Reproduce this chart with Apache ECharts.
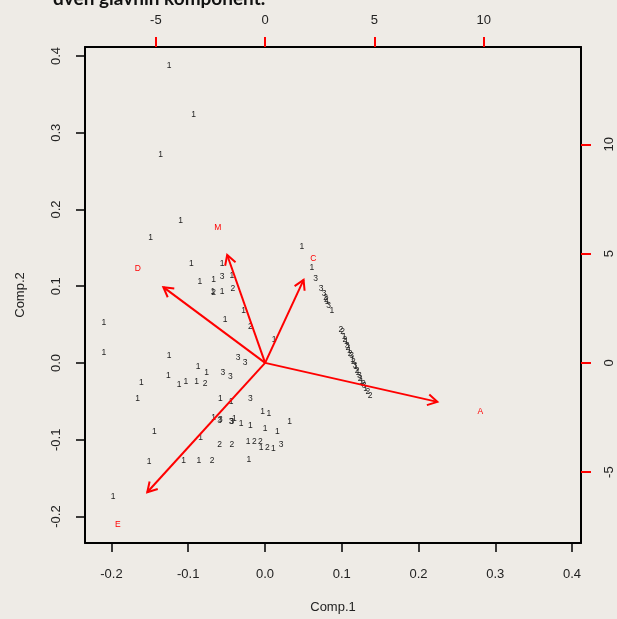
<!DOCTYPE html>
<html>
<head>
<meta charset="utf-8">
<script src="https://cdn.jsdelivr.net/npm/echarts@6/dist/echarts.min.js"></script>
<style>
  html, body { margin: 0; padding: 0; background: #eeebe6; }
  #main { width: 617px; height: 619px; }
</style>
</head>
<body>
<div id="main"></div>
<script>
// scores (Comp.1, Comp.2) with group label of each observation
const groupLab = [
  1,1,1,1,1,1,1,3,1,1,1,2,1,1,2,1,1,2,1,1,1,3,3,1,1,1,3,3,1,1,1,1,1,2,1,1,1,3,1,1,
  1,1,3,3,1,3,3,1,1,1,1,1,1,2,2,1,2,2,1,2,1,3,1,1,1,2,1,1,
  1,1,3,3,3,2,2,1,3,1,
  2,2,1,2,1,3,2,1,2,3,1,2,3,1,2,1,3,2,1,2,3,1,2,2
];
const comp1 = [
  -0.125,-0.093,-0.136,-0.110,-0.149,-0.096,-0.056,-0.056,-0.043,-0.085,
  -0.067,-0.067,-0.068,-0.056,-0.042,-0.028,-0.052,-0.019,-0.210,-0.210,
  -0.125,-0.035,-0.026,0.012,-0.087,-0.076,-0.055,-0.045,-0.126,-0.161,
  -0.112,-0.103,-0.089,-0.078,-0.166,-0.058,-0.044,-0.019,-0.003,0.005,
  0.032,-0.067,-0.059,-0.058,-0.040,-0.043,-0.044,-0.031,-0.019,0.000,
  0.016,-0.144,-0.084,-0.059,-0.043,-0.022,-0.014,-0.006,-0.005,0.003,
  0.011,0.021,-0.151,-0.106,-0.086,-0.069,-0.021,-0.198,
  0.048,0.061,0.066,0.073,0.077,0.079,0.080,0.081,0.083,0.087,
  0.099,0.101,0.103,0.104,0.106,0.107,0.108,0.110,0.111,0.113,0.114,0.115,
  0.117,0.118,0.120,0.121,0.123,0.124,0.126,0.128,0.129,0.131,0.134,0.137
];
const comp2 = [
  0.387,0.323,0.272,0.186,0.163,0.130,0.129,0.113,0.114,0.106,
  0.108,0.092,0.093,0.093,0.097,0.068,0.056,0.047,0.053,0.014,
  0.009,0.007,0.000,0.030,-0.005,-0.012,-0.013,-0.018,-0.017,-0.025,
  -0.028,-0.024,-0.024,-0.027,-0.046,-0.046,-0.051,-0.047,-0.064,-0.066,
  -0.076,-0.071,-0.075,-0.074,-0.073,-0.077,-0.077,-0.079,-0.082,-0.086,
  -0.089,-0.090,-0.097,-0.106,-0.107,-0.103,-0.103,-0.103,-0.110,-0.110,
  -0.111,-0.107,-0.129,-0.127,-0.127,-0.127,-0.126,-0.174,
  0.152,0.124,0.110,0.097,0.090,0.085,0.083,0.080,0.075,0.068,
  0.043,0.041,0.034,0.030,0.028,0.022,0.020,0.016,0.012,0.009,0.005,0.002,
  -0.003,-0.005,-0.010,-0.013,-0.017,-0.020,-0.024,-0.027,-0.030,-0.034,-0.037,-0.042
];

// loadings (variable positions on the top/right scale)
const varNames = ['A', 'C', 'D', 'E', 'M'];
const load1 = [9.85, 2.20, -5.82, -6.74, -2.17];
const load2 = [-2.23, 4.75, 4.33, -7.40, 6.17];
const arrowScale = 0.8; // biplot draws arrows at 0.8 of the loading, text at the loading

const scoreTicks = [-0.2, -0.1, 0.0, 0.1, 0.2, 0.3, 0.4];
const loadTicks = [-5, 0, 5, 10];

const font = '"Liberation Sans", Arial, sans-serif';
const chart = echarts.init(document.getElementById('main'));

function scoreAxis(pos, name, gap, nameGap, rot) {
  return {
    type: 'value', position: pos, min: -0.2345, max: 0.4117,
    axisLine: { show: true, onZero: false, lineStyle: { color: '#000', width: 2 } },
    axisTick: { show: true, length: 9, customValues: scoreTicks, lineStyle: { color: '#000', width: 1.5 } },
    axisLabel: { customValues: scoreTicks, formatter: v => v.toFixed(1), rotate: rot,
      fontSize: 13, fontFamily: font, color: '#222', margin: gap },
    splitLine: { show: false },
    name: name, nameLocation: 'middle', nameGap: nameGap,
    nameRotate: pos === 'left' ? 90 : 0,
    nameTextStyle: { fontSize: 13, fontFamily: font, color: '#222' }
  };
}
function loadAxis(pos, gap, rot) {
  return {
    type: 'value', position: pos, min: -8.24, max: 14.45,
    axisLine: { show: true, onZero: false, lineStyle: { color: '#000', width: 2 } },
    axisTick: { show: true, length: 10, customValues: loadTicks, lineStyle: { color: '#ff0000', width: 2 } },
    axisLabel: { customValues: loadTicks, rotate: rot,
      fontSize: 13, fontFamily: font, color: '#222', margin: gap },
    splitLine: { show: false }
  };
}

chart.setOption({
  backgroundColor: '#eeebe6',
  animation: false,
  graphic: [{
    type: 'text', left: 53, top: -11,
    style: { text: 'dveh glavnih komponent.', font: 'bold 19px Lato, sans-serif', fill: '#111' }
  }],
  grid: { left: 85, right: 36, top: 47, bottom: 76 },
  xAxis: [scoreAxis('bottom', 'Comp.1', 25, 58, 0), loadAxis('top', 20, 0)],
  yAxis: [scoreAxis('left', 'Comp.2', 22, 58, 90), loadAxis('right', 22, 90)],
  series: [
    {
      type: 'custom', xAxisIndex: 0, yAxisIndex: 0, silent: true,
      data: comp1.map((v, i) => [v, comp2[i]]),
      renderItem: function (params, api) {
        const p = api.coord([api.value(0), api.value(1)]);
        return {
          type: 'text', x: p[0], y: p[1],
          style: { text: String(groupLab[params.dataIndex]), fill: '#222',
            font: '8.5px ' + font, align: 'center', verticalAlign: 'middle' }
        };
      }
    },
    {
      type: 'custom', xAxisIndex: 1, yAxisIndex: 1, silent: true,
      data: load1.map((v, i) => [v, load2[i]]),
      renderItem: function (params, api) {
        const o = api.coord([0, 0]);
        const t = api.coord([api.value(0) * arrowScale, api.value(1) * arrowScale]);
        const ang = Math.atan2(t[1] - o[1], t[0] - o[0]);
        const hl = 11, ha = Math.PI / 6;
        const h1 = [t[0] - hl * Math.cos(ang - ha), t[1] - hl * Math.sin(ang - ha)];
        const h2 = [t[0] - hl * Math.cos(ang + ha), t[1] - hl * Math.sin(ang + ha)];
        const st = { stroke: '#ff0000', lineWidth: 2, fill: null };
        return {
          type: 'group', children: [
            { type: 'line', shape: { x1: o[0], y1: o[1], x2: t[0], y2: t[1] }, style: st },
            { type: 'polyline', shape: { points: [h1, t, h2] }, style: st }
          ]
        };
      }
    },
    {
      type: 'custom', xAxisIndex: 1, yAxisIndex: 1, silent: true,
      data: load1.map((v, i) => [v, load2[i]]),
      renderItem: function (params, api) {
        const p = api.coord([api.value(0), api.value(1)]);
        return {
          type: 'text', x: p[0], y: p[1],
          style: { text: varNames[params.dataIndex], fill: '#ff0000',
            font: '8.5px ' + font, align: 'center', verticalAlign: 'middle' }
        };
      }
    }
  ]
});
</script>
</body>
</html>
